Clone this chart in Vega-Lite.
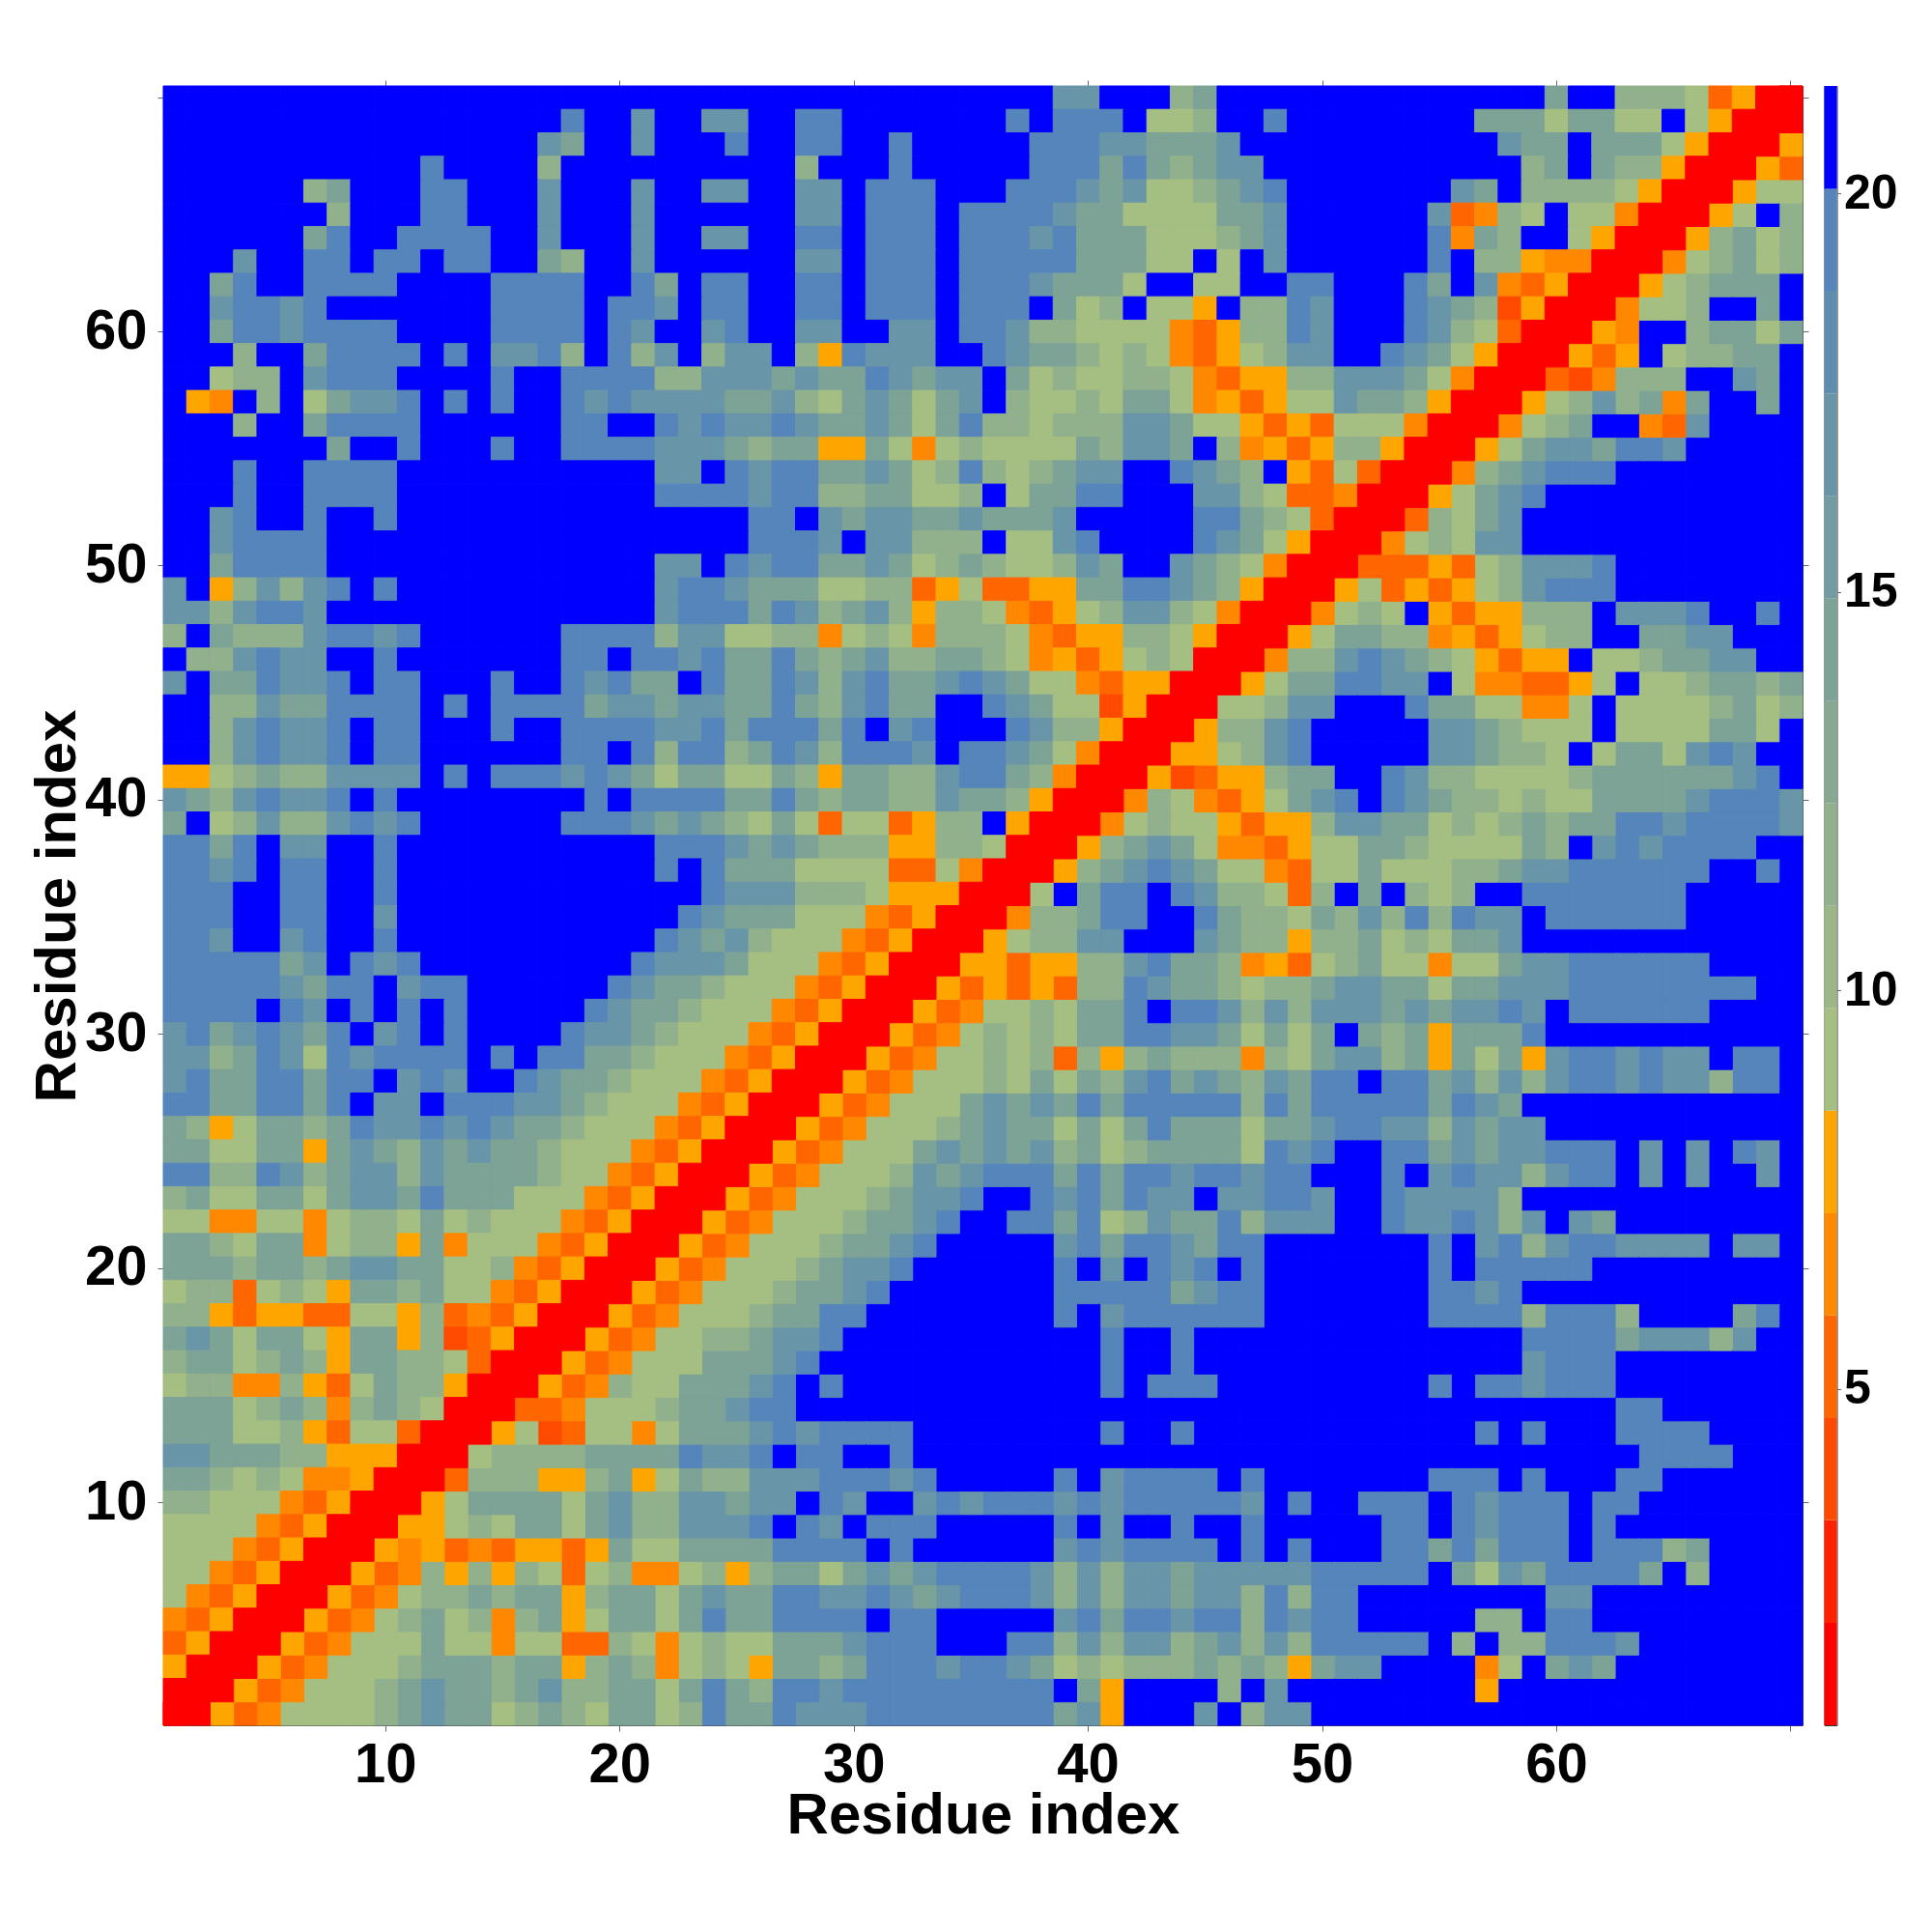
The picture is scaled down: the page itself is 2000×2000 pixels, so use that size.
{"$schema":"https://vega.github.io/schema/vega-lite/v6.json","background":"white","padding":{"left":29,"top":71,"right":0,"bottom":0},"spacing":14.5,"config":{"font":"Liberation Sans","view":{"stroke":null},"axis":{"domainColor":"#444","tickColor":"#666","tickSize":6,"tickWidth":1,"grid":false,"labelFontWeight":"bold","labelColor":"black","titleColor":"black","titleFontWeight":"bold","labelFont":"Liberation Sans","titleFont":"Liberation Sans","zindex":1}},"datasets":{"m":[
{"row":70,"col":[1,2,3,4,5,6,7,8,9,10,11,12,13,14,15,16,17,18,19,20,21,22,23,24,25,26,27,28,29,30,31,32,33,34,35,36,37,38,39,40,41,42,43,44,45,46,47,48,49,50,51,52,53,54,55,56,57,58,59,60,61,62,63,64,65,66,67,68,69,70],"dist":[21,21,21,21,21,21,21,21,21,21,21,21,21,21,21,21,21,21,21,21,21,21,21,21,21,21,21,21,21,21,21,21,21,21,21,21,21,21,17,17,21,21,21,12,14,21,21,21,21,21,21,21,21,21,21,21,21,21,21,14,21,21,12,12,12,9,5,8,1,1]},
{"row":69,"col":[1,2,3,4,5,6,7,8,9,10,11,12,13,14,15,16,17,18,19,20,21,22,23,24,25,26,27,28,29,30,31,32,33,34,35,36,37,38,39,40,41,42,43,44,45,46,47,48,49,50,51,52,53,54,55,56,57,58,59,60,61,62,63,64,65,66,67,68,69],"dist":[21,21,21,21,21,21,21,21,21,21,21,21,21,21,21,21,21,19,21,21,17,21,21,17,17,21,21,19,19,21,21,21,21,21,21,21,19,21,19,19,19,21,9,9,12,21,21,19,21,21,21,21,21,21,21,21,14,14,14,9,14,14,9,9,21,9,8,1,1]},
{"row":68,"col":[1,2,3,4,5,6,7,8,9,10,11,12,13,14,15,16,17,18,19,20,21,22,23,24,25,26,27,28,29,30,31,32,33,34,35,36,37,38,39,40,41,42,43,44,45,46,47,48,49,50,51,52,53,54,55,56,57,58,59,60,61,62,63,64,65,66,67,68],"dist":[21,21,21,21,21,21,21,21,21,21,21,21,21,21,21,21,17,14,21,21,17,21,21,21,19,21,21,19,19,21,21,19,21,21,21,21,21,19,19,19,17,17,14,14,14,17,21,21,21,21,21,21,21,21,21,21,21,17,14,14,21,14,14,14,9,8,1,1]},
{"row":67,"col":[1,2,3,4,5,6,7,8,9,10,11,12,13,14,15,16,17,18,19,20,21,22,23,24,25,26,27,28,29,30,31,32,33,34,35,36,37,38,39,40,41,42,43,44,45,46,47,48,49,50,51,52,53,54,55,56,57,58,59,60,61,62,63,64,65,66,67],"dist":[21,21,21,21,21,21,21,21,21,21,21,19,21,21,21,21,12,21,21,21,21,21,21,21,21,21,21,12,21,21,21,19,21,21,21,21,21,19,19,19,14,19,14,12,14,17,17,21,21,21,21,21,21,21,21,21,21,21,12,14,21,14,12,12,8,1,1]},
{"row":66,"col":[1,2,3,4,5,6,7,8,9,10,11,12,13,14,15,16,17,18,19,20,21,22,23,24,25,26,27,28,29,30,31,32,33,34,35,36,37,38,39,40,41,42,43,44,45,46,47,48,49,50,51,52,53,54,55,56,57,58,59,60,61,62,63,64,65,66],"dist":[21,21,21,21,21,21,12,14,21,21,21,19,19,21,21,21,17,21,21,21,17,21,21,17,17,21,21,17,17,21,19,19,19,21,21,21,19,19,19,17,14,17,9,9,12,14,17,19,21,21,21,21,21,21,21,17,14,21,12,12,12,12,9,8,1,1]},
{"row":65,"col":[1,2,3,4,5,6,7,8,9,10,11,12,13,14,15,16,17,18,19,20,21,22,23,24,25,26,27,28,29,30,31,32,33,34,35,36,37,38,39,40,41,42,43,44,45,46,47,48,49,50,51,52,53,54,55,56,57,58,59,60,61,62,63,64,65],"dist":[21,21,21,21,21,21,21,12,21,21,21,19,19,21,21,21,17,21,21,21,17,21,21,21,21,21,21,17,17,21,19,19,19,21,19,19,19,19,17,14,14,9,9,9,9,14,14,17,21,21,21,21,21,21,17,5,7,12,9,21,9,9,7,1,1]},
{"row":64,"col":[1,2,3,4,5,6,7,8,9,10,11,12,13,14,15,16,17,18,19,20,21,22,23,24,25,26,27,28,29,30,31,32,33,34,35,36,37,38,39,40,41,42,43,44,45,46,47,48,49,50,51,52,53,54,55,56,57,58,59,60,61,62,63,64],"dist":[21,21,21,21,21,21,14,19,21,21,19,19,19,19,21,21,17,21,21,21,17,21,21,17,17,21,21,19,19,21,19,19,19,21,19,19,19,17,19,14,14,14,9,9,9,12,14,17,21,21,21,21,21,21,19,7,14,12,21,21,9,8,1,1]},
{"row":63,"col":[1,2,3,4,5,6,7,8,9,10,11,12,13,14,15,16,17,18,19,20,21,22,23,24,25,26,27,28,29,30,31,32,33,34,35,36,37,38,39,40,41,42,43,44,45,46,47,48,49,50,51,52,53,54,55,56,57,58,59,60,61,62,63],"dist":[21,21,21,17,21,21,19,19,21,19,19,21,19,19,21,21,14,12,21,21,17,21,21,21,21,21,21,17,17,21,19,19,19,21,19,19,19,19,19,14,14,14,9,9,21,9,21,17,21,21,21,21,21,21,19,21,12,12,8,7,7,1,1]},
{"row":62,"col":[1,2,3,4,5,6,7,8,9,10,11,12,13,14,15,16,17,18,19,20,21,22,23,24,25,26,27,28,29,30,31,32,33,34,35,36,37,38,39,40,41,42,43,44,45,46,47,48,49,50,51,52,53,54,55,56,57,58,59,60,61,62],"dist":[21,21,14,19,21,21,19,19,19,19,21,21,21,21,19,19,19,19,21,21,19,14,21,19,19,21,21,19,19,21,19,19,19,21,19,19,19,17,14,14,14,9,21,21,9,9,21,21,19,19,21,21,21,19,14,21,17,7,5,8,1,1]},
{"row":61,"col":[1,2,3,4,5,6,7,8,9,10,11,12,13,14,15,16,17,18,19,20,21,22,23,24,25,26,27,28,29,30,31,32,33,34,35,36,37,38,39,40,41,42,43,44,45,46,47,48,49,50,51,52,53,54,55,56,57,58,59,60,61],"dist":[21,21,17,19,19,17,19,21,21,21,21,21,21,21,19,19,19,19,21,19,19,17,21,19,19,21,21,19,19,21,19,19,19,21,19,19,19,21,14,9,12,21,9,9,8,21,12,12,19,17,21,21,21,19,17,14,12,4,8,1,1]},
{"row":60,"col":[1,2,3,4,5,6,7,8,9,10,11,12,13,14,15,16,17,18,19,20,21,22,23,24,25,26,27,28,29,30,31,32,33,34,35,36,37,38,39,40,41,42,43,44,45,46,47,48,49,50,51,52,53,54,55,56,57,58,59,60],"dist":[21,21,14,19,19,17,19,19,19,19,21,21,21,21,19,19,19,19,21,19,17,21,21,17,19,21,21,17,17,21,21,17,17,21,19,19,17,12,12,9,9,9,9,7,5,8,12,12,19,17,21,21,21,19,17,12,9,5,1,1]},
{"row":59,"col":[1,2,3,4,5,6,7,8,9,10,11,12,13,14,15,16,17,18,19,20,21,22,23,24,25,26,27,28,29,30,31,32,33,34,35,36,37,38,39,40,41,42,43,44,45,46,47,48,49,50,51,52,53,54,55,56,57,58,59],"dist":[21,21,21,12,21,21,14,19,19,19,19,21,19,21,17,17,19,12,21,19,12,17,21,12,17,17,21,12,8,19,17,17,17,21,21,19,17,14,14,12,9,12,9,7,5,8,9,12,17,17,21,21,19,17,14,9,8,1,1]},
{"row":58,"col":[1,2,3,4,5,6,7,8,9,10,11,12,13,14,15,16,17,18,19,20,21,22,23,24,25,26,27,28,29,30,31,32,33,34,35,36,37,38,39,40,41,42,43,44,45,46,47,48,49,50,51,52,53,54,55,56,57,58],"dist":[21,21,9,12,12,21,17,19,19,19,21,21,21,21,19,21,21,19,19,19,19,12,12,17,17,17,14,17,14,14,19,17,14,17,17,21,14,9,12,9,9,12,12,9,7,5,8,8,12,12,17,17,17,14,9,7,1,1]},
{"row":57,"col":[1,2,3,4,5,6,7,8,9,10,11,12,13,14,15,16,17,18,19,20,21,22,23,24,25,26,27,28,29,30,31,32,33,34,35,36,37,38,39,40,41,42,43,44,45,46,47,48,49,50,51,52,53,54,55,56,57],"dist":[21,8,7,21,12,21,9,14,17,17,19,21,19,21,19,21,21,19,17,19,17,17,17,17,14,14,17,12,9,14,17,14,9,14,17,21,12,9,9,12,9,14,14,9,7,8,5,8,9,9,17,14,14,12,8,1,1]},
{"row":56,"col":[1,2,3,4,5,6,7,8,9,10,11,12,13,14,15,16,17,18,19,20,21,22,23,24,25,26,27,28,29,30,31,32,33,34,35,36,37,38,39,40,41,42,43,44,45,46,47,48,49,50,51,52,53,54,55,56],"dist":[21,21,21,12,21,21,14,19,19,19,19,21,21,21,21,21,21,19,19,21,21,19,17,19,17,17,19,17,14,14,17,14,9,14,19,12,12,9,12,12,12,17,17,14,9,9,8,5,8,5,9,9,9,7,1,1]},
{"row":55,"col":[1,2,3,4,5,6,7,8,9,10,11,12,13,14,15,16,17,18,19,20,21,22,23,24,25,26,27,28,29,30,31,32,33,34,35,36,37,38,39,40,41,42,43,44,45,46,47,48,49,50,51,52,53,54,55],"dist":[21,21,21,21,21,21,21,14,21,21,19,21,21,21,19,21,21,19,19,19,19,17,17,17,14,12,14,14,8,8,14,9,7,9,12,9,9,9,9,14,12,17,17,14,21,12,7,8,5,8,12,12,8,1,1]},
{"row":54,"col":[1,2,3,4,5,6,7,8,9,10,11,12,13,14,15,16,17,18,19,20,21,22,23,24,25,26,27,28,29,30,31,32,33,34,35,36,37,38,39,40,41,42,43,44,45,46,47,48,49,50,51,52,53,54],"dist":[21,21,21,19,21,21,19,19,19,19,21,21,21,21,21,21,21,21,21,21,21,17,17,21,19,17,19,19,14,14,17,14,9,12,19,12,9,12,14,17,17,21,21,19,17,14,12,21,8,5,9,5,1,1]},
{"row":53,"col":[1,2,3,4,5,6,7,8,9,10,11,12,13,14,15,16,17,18,19,20,21,22,23,24,25,26,27,28,29,30,31,32,33,34,35,36,37,38,39,40,41,42,43,44,45,46,47,48,49,50,51,52,53],"dist":[21,21,21,19,21,21,19,19,19,19,21,21,21,21,21,21,21,21,21,21,21,19,19,19,19,17,19,19,12,12,14,14,9,9,12,21,9,14,14,19,19,21,21,21,17,17,12,9,5,5,7,1,1]},
{"row":52,"col":[1,2,3,4,5,6,7,8,9,10,11,12,13,14,15,16,17,18,19,20,21,22,23,24,25,26,27,28,29,30,31,32,33,34,35,36,37,38,39,40,41,42,43,44,45,46,47,48,49,50,51,52],"dist":[21,21,17,19,21,21,19,21,21,19,21,21,21,21,21,21,21,21,21,21,21,21,21,21,21,19,19,21,17,14,17,17,14,14,17,14,14,14,17,21,21,21,21,21,19,19,14,12,9,5,1,1]},
{"row":51,"col":[1,2,3,4,5,6,7,8,9,10,11,12,13,14,15,16,17,18,19,20,21,22,23,24,25,26,27,28,29,30,31,32,33,34,35,36,37,38,39,40,41,42,43,44,45,46,47,48,49,50,51],"dist":[21,21,17,19,19,19,19,21,21,21,21,21,21,21,21,21,21,21,21,21,21,21,21,21,21,19,19,19,17,21,17,17,12,12,12,21,9,9,17,19,21,21,21,21,19,17,14,9,8,1,1]},
{"row":50,"col":[1,2,3,4,5,6,7,8,9,10,11,12,13,14,15,16,17,18,19,20,21,22,23,24,25,26,27,28,29,30,31,32,33,34,35,36,37,38,39,40,41,42,43,44,45,46,47,48,49,50],"dist":[21,21,14,19,19,19,19,21,21,21,21,21,21,21,21,21,21,21,21,21,21,17,17,21,19,17,19,19,14,14,17,14,9,12,14,12,9,9,12,17,14,21,21,17,14,12,9,7,1,1]},
{"row":49,"col":[1,2,3,4,5,6,7,8,9,10,11,12,13,14,15,16,17,18,19,20,21,22,23,24,25,26,27,28,29,30,31,32,33,34,35,36,37,38,39,40,41,42,43,44,45,46,47,48,49],"dist":[17,21,8,12,17,12,17,19,21,19,21,21,21,21,21,21,21,21,21,21,21,17,19,19,17,14,14,14,9,9,12,12,5,8,9,5,5,8,8,14,14,19,19,17,14,12,8,1,1]},
{"row":48,"col":[1,2,3,4,5,6,7,8,9,10,11,12,13,14,15,16,17,18,19,20,21,22,23,24,25,26,27,28,29,30,31,32,33,34,35,36,37,38,39,40,41,42,43,44,45,46,47,48],"dist":[17,17,12,17,19,19,17,21,21,21,21,21,21,21,21,21,21,21,21,21,21,17,19,19,19,14,19,17,12,14,17,12,8,12,12,9,7,5,8,9,12,17,17,12,9,7,1,1]},
{"row":47,"col":[1,2,3,4,5,6,7,8,9,10,11,12,13,14,15,16,17,18,19,20,21,22,23,24,25,26,27,28,29,30,31,32,33,34,35,36,37,38,39,40,41,42,43,44,45,46,47],"dist":[12,21,14,12,12,12,17,19,19,17,19,21,21,21,21,21,21,19,19,19,19,12,17,17,9,9,12,12,7,9,12,9,7,12,12,12,9,7,5,8,8,12,12,9,8,1,1]},
{"row":46,"col":[1,2,3,4,5,6,7,8,9,10,11,12,13,14,15,16,17,18,19,20,21,22,23,24,25,26,27,28,29,30,31,32,33,34,35,36,37,38,39,40,41,42,43,44,45,46],"dist":[21,12,12,17,19,17,17,21,21,19,21,21,21,21,21,21,21,19,19,21,19,19,17,19,14,14,19,14,12,14,17,12,12,14,14,12,9,7,8,5,8,9,12,9,1,1]},
{"row":45,"col":[1,2,3,4,5,6,7,8,9,10,11,12,13,14,15,16,17,18,19,20,21,22,23,24,25,26,27,28,29,30,31,32,33,34,35,36,37,38,39,40,41,42,43,44,45],"dist":[17,21,14,14,19,17,17,19,21,19,19,21,21,21,19,21,21,19,17,19,14,14,21,19,14,14,19,17,12,17,19,14,14,17,19,17,14,9,9,7,5,8,8,1,1]},
{"row":44,"col":[1,2,3,4,5,6,7,8,9,10,11,12,13,14,15,16,17,18,19,20,21,22,23,24,25,26,27,28,29,30,31,32,33,34,35,36,37,38,39,40,41,42,43,44],"dist":[21,21,12,12,17,14,14,19,19,19,19,21,19,21,19,19,19,19,14,17,17,14,17,17,14,14,19,14,12,17,19,14,14,21,21,19,17,14,9,9,4,8,1,1]},
{"row":43,"col":[1,2,3,4,5,6,7,8,9,10,11,12,13,14,15,16,17,18,19,20,21,22,23,24,25,26,27,28,29,30,31,32,33,34,35,36,37,38,39,40,41,42,43],"dist":[21,21,12,17,19,17,17,19,21,19,19,21,21,21,19,21,21,19,19,19,19,17,17,19,14,19,19,19,14,19,21,17,19,21,21,21,19,17,12,12,8,1,1]},
{"row":42,"col":[1,2,3,4,5,6,7,8,9,10,11,12,13,14,15,16,17,18,19,20,21,22,23,24,25,26,27,28,29,30,31,32,33,34,35,36,37,38,39,40,41,42],"dist":[21,21,12,17,19,17,17,19,21,19,19,21,21,21,21,21,21,19,19,21,19,12,19,19,12,14,19,17,12,19,19,19,17,21,19,19,17,14,9,7,1,1]},
{"row":41,"col":[1,2,3,4,5,6,7,8,9,10,11,12,13,14,15,16,17,18,19,20,21,22,23,24,25,26,27,28,29,30,31,32,33,34,35,36,37,38,39,40,41],"dist":[8,8,9,12,14,12,12,17,17,17,17,21,19,21,19,19,19,17,19,17,14,9,14,14,9,9,14,12,8,14,14,12,12,17,19,19,14,12,7,1,1]},
{"row":40,"col":[1,2,3,4,5,6,7,8,9,10,11,12,13,14,15,16,17,18,19,20,21,22,23,24,25,26,27,28,29,30,31,32,33,34,35,36,37,38,39,40],"dist":[17,14,12,17,19,17,17,19,21,19,21,21,21,21,21,21,21,21,19,21,19,19,19,19,14,14,19,14,12,14,14,12,12,17,14,14,12,8,1,1]},
{"row":39,"col":[1,2,3,4,5,6,7,8,9,10,11,12,13,14,15,16,17,18,19,20,21,22,23,24,25,26,27,28,29,30,31,32,33,34,35,36,37,38,39],"dist":[14,21,9,12,17,12,12,17,19,17,19,21,21,21,21,21,21,19,19,19,17,14,17,14,12,9,14,9,5,9,9,5,8,12,12,21,8,1,1]},
{"row":38,"col":[1,2,3,4,5,6,7,8,9,10,11,12,13,14,15,16,17,18,19,20,21,22,23,24,25,26,27,28,29,30,31,32,33,34,35,36,37,38],"dist":[19,19,14,19,21,17,17,21,21,19,21,21,21,21,21,21,21,21,21,21,21,19,19,19,17,14,17,14,12,12,12,8,8,12,12,9,1,1]},
{"row":37,"col":[1,2,3,4,5,6,7,8,9,10,11,12,13,14,15,16,17,18,19,20,21,22,23,24,25,26,27,28,29,30,31,32,33,34,35,36,37],"dist":[19,19,17,19,21,19,19,21,21,19,21,21,21,21,21,21,21,21,21,21,21,19,21,19,14,14,14,9,9,9,9,5,5,9,7,1,1]},
{"row":36,"col":[1,2,3,4,5,6,7,8,9,10,11,12,13,14,15,16,17,18,19,20,21,22,23,24,25,26,27,28,29,30,31,32,33,34,35,36],"dist":[19,19,19,21,21,19,19,21,21,19,21,21,21,21,21,21,21,21,21,21,21,21,21,19,17,17,17,12,12,12,9,8,8,8,1,1]},
{"row":35,"col":[1,2,3,4,5,6,7,8,9,10,11,12,13,14,15,16,17,18,19,20,21,22,23,24,25,26,27,28,29,30,31,32,33,34,35],"dist":[19,19,19,21,21,19,19,21,21,17,21,21,21,21,21,21,21,21,21,21,21,21,19,17,14,14,14,9,9,9,7,5,8,1,1]},
{"row":34,"col":[1,2,3,4,5,6,7,8,9,10,11,12,13,14,15,16,17,18,19,20,21,22,23,24,25,26,27,28,29,30,31,32,33,34],"dist":[19,19,17,21,21,17,19,21,21,19,21,21,21,21,21,21,21,21,21,21,21,19,17,14,17,12,9,9,9,7,5,8,1,1]},
{"row":33,"col":[1,2,3,4,5,6,7,8,9,10,11,12,13,14,15,16,17,18,19,20,21,22,23,24,25,26,27,28,29,30,31,32,33],"dist":[19,19,19,19,19,14,17,21,19,17,19,21,21,21,21,21,21,21,21,21,19,17,17,17,14,9,9,9,7,5,8,1,1]},
{"row":32,"col":[1,2,3,4,5,6,7,8,9,10,11,12,13,14,15,16,17,18,19,20,21,22,23,24,25,26,27,28,29,30,31,32],"dist":[19,19,19,19,19,17,14,19,19,21,17,19,19,21,21,21,21,21,21,19,17,14,14,12,9,9,9,7,5,8,1,1]},
{"row":31,"col":[1,2,3,4,5,6,7,8,9,10,11,12,13,14,15,16,17,18,19,20,21,22,23,24,25,26,27,28,29,30,31],"dist":[19,19,19,19,21,19,17,21,19,21,19,21,19,21,21,21,21,21,19,17,14,14,12,9,9,9,7,5,8,1,1]},
{"row":30,"col":[1,2,3,4,5,6,7,8,9,10,11,12,13,14,15,16,17,18,19,20,21,22,23,24,25,26,27,28,29,30],"dist":[17,19,14,17,19,17,14,19,21,17,19,21,19,21,21,21,21,19,17,17,14,12,9,9,9,7,5,8,1,1]},
{"row":29,"col":[1,2,3,4,5,6,7,8,9,10,11,12,13,14,15,16,17,18,19,20,21,22,23,24,25,26,27,28,29],"dist":[17,17,12,14,19,17,9,19,17,19,19,19,19,21,19,21,19,19,14,14,12,9,9,9,7,5,8,1,1]},
{"row":28,"col":[1,2,3,4,5,6,7,8,9,10,11,12,13,14,15,16,17,18,19,20,21,22,23,24,25,26,27,28],"dist":[17,19,14,14,19,19,14,19,19,21,17,19,17,21,21,19,17,14,14,12,9,9,9,7,5,8,1,1]},
{"row":27,"col":[1,2,3,4,5,6,7,8,9,10,11,12,13,14,15,16,17,18,19,20,21,22,23,24,25,26,27],"dist":[19,19,14,14,19,19,14,19,21,17,17,21,19,19,19,17,17,14,12,9,9,9,7,5,8,1,1]},
{"row":26,"col":[1,2,3,4,5,6,7,8,9,10,11,12,13,14,15,16,17,18,19,20,21,22,23,24,25,26],"dist":[14,12,8,9,14,14,12,14,19,17,17,19,17,19,17,14,14,12,9,9,9,7,5,8,1,1]},
{"row":25,"col":[1,2,3,4,5,6,7,8,9,10,11,12,13,14,15,16,17,18,19,20,21,22,23,24,25],"dist":[14,14,9,9,14,14,8,14,17,14,12,17,14,17,14,14,12,9,9,9,7,5,8,1,1]},
{"row":24,"col":[1,2,3,4,5,6,7,8,9,10,11,12,13,14,15,16,17,18,19,20,21,22,23,24],"dist":[19,19,12,12,19,17,12,14,17,17,12,17,14,14,14,14,12,9,9,7,5,8,1,1]},
{"row":23,"col":[1,2,3,4,5,6,7,8,9,10,11,12,13,14,15,16,17,18,19,20,21,22,23],"dist":[12,14,9,9,14,14,9,14,17,17,14,19,14,14,14,9,9,9,7,5,8,1,1]},
{"row":22,"col":[1,2,3,4,5,6,7,8,9,10,11,12,13,14,15,16,17,18,19,20,21,22],"dist":[9,9,7,7,9,9,7,9,12,12,9,14,9,12,9,9,9,7,5,8,1,1]},
{"row":21,"col":[1,2,3,4,5,6,7,8,9,10,11,12,13,14,15,16,17,18,19,20,21],"dist":[14,14,12,9,14,14,7,9,12,12,8,14,7,9,9,9,7,5,8,1,1]},
{"row":20,"col":[1,2,3,4,5,6,7,8,9,10,11,12,13,14,15,16,17,18,19,20],"dist":[14,14,14,12,14,14,12,14,17,17,14,14,9,9,12,7,5,8,1,1]},
{"row":19,"col":[1,2,3,4,5,6,7,8,9,10,11,12,13,14,15,16,17,18,19],"dist":[9,12,12,5,9,12,9,8,14,14,12,14,9,9,7,5,8,1,1]},
{"row":18,"col":[1,2,3,4,5,6,7,8,9,10,11,12,13,14,15,16,17,18],"dist":[12,12,8,5,8,8,5,5,9,9,8,12,5,7,5,8,1,1]},
{"row":17,"col":[1,2,3,4,5,6,7,8,9,10,11,12,13,14,15,16,17],"dist":[14,17,14,9,14,14,9,8,14,14,8,12,4,5,8,1,1]},
{"row":16,"col":[1,2,3,4,5,6,7,8,9,10,11,12,13,14,15,16],"dist":[12,14,14,9,12,14,12,8,14,14,12,12,9,5,1,1]},
{"row":15,"col":[1,2,3,4,5,6,7,8,9,10,11,12,13,14,15],"dist":[9,12,12,7,7,12,8,5,9,14,12,12,8,1,1]},
{"row":14,"col":[1,2,3,4,5,6,7,8,9,10,11,12,13,14],"dist":[14,14,14,9,12,14,12,7,12,14,12,9,1,1]},
{"row":13,"col":[1,2,3,4,5,6,7,8,9,10,11,12,13],"dist":[14,14,14,9,9,12,8,5,9,9,5,1,1]},
{"row":12,"col":[1,2,3,4,5,6,7,8,9,10,11,12],"dist":[17,17,14,14,14,12,12,8,8,8,1,1]},
{"row":11,"col":[1,2,3,4,5,6,7,8,9,10,11],"dist":[14,14,12,9,12,9,7,7,8,1,1]},
{"row":10,"col":[1,2,3,4,5,6,7,8,9,10],"dist":[12,12,9,9,9,7,5,8,1,1]},
{"row":9,"col":[1,2,3,4,5,6,7,8,9],"dist":[9,9,9,9,7,5,8,1,1]},
{"row":8,"col":[1,2,3,4,5,6,7,8],"dist":[9,9,9,7,5,8,1,1]},
{"row":7,"col":[1,2,3,4,5,6,7],"dist":[9,9,7,5,8,1,1]},
{"row":6,"col":[1,2,3,4,5,6],"dist":[9,7,5,8,1,1]},
{"row":5,"col":[1,2,3,4,5],"dist":[7,5,8,1,1]},
{"row":4,"col":[1,2,3,4],"dist":[5,8,1,1]},
{"row":3,"col":[1,2,3],"dist":[8,1,1]},
{"row":2,"col":[1,2],"dist":[1,1]},
{"row":1,"col":[1],"dist":[1]}
],"cb":[{"lo":0.775,"hi":2.06,"v":1},{"lo":2.06,"hi":3.35,"v":3},{"lo":3.35,"hi":4.63,"v":4},{"lo":4.63,"hi":5.92,"v":5},{"lo":5.92,"hi":7.2,"v":7},{"lo":7.2,"hi":8.49,"v":8},{"lo":8.49,"hi":9.78,"v":9},{"lo":9.78,"hi":11.06,"v":10},{"lo":11.06,"hi":12.35,"v":12},{"lo":12.35,"hi":13.63,"v":13},{"lo":13.63,"hi":14.92,"v":14},{"lo":14.92,"hi":16.2,"v":15},{"lo":16.2,"hi":17.49,"v":17},{"lo":17.49,"hi":18.78,"v":18},{"lo":18.78,"hi":20.06,"v":19},{"lo":20.06,"hi":21.35,"v":21}]},"hconcat":[{"width":1697,"height":1697,"data":{"name":"m"},"transform":[{"flatten":["col","dist"]}],"layer":[{"mark":{"type":"rect","strokeWidth":1},"encoding":{"x":{"field":"col","type":"ordinal","scale":{"domain":[1,2,3,4,5,6,7,8,9,10,11,12,13,14,15,16,17,18,19,20,21,22,23,24,25,26,27,28,29,30,31,32,33,34,35,36,37,38,39,40,41,42,43,44,45,46,47,48,49,50,51,52,53,54,55,56,57,58,59,60,61,62,63,64,65,66,67,68,69,70],"round":false,"paddingInner":0,"paddingOuter":0},"axis":{"title":"Residue index","orient":"bottom","values":[10,20,30,40,50,60,70],"labelExpr":"datum.value==70?'':datum.label","labelAngle":0,"labelFontSize":58,"labelPadding":6,"titleFontSize":60,"titlePadding":-6}},"y":{"field":"row","type":"ordinal","scale":{"domain":[70,69,68,67,66,65,64,63,62,61,60,59,58,57,56,55,54,53,52,51,50,49,48,47,46,45,44,43,42,41,40,39,38,37,36,35,34,33,32,31,30,29,28,27,26,25,24,23,22,21,20,19,18,17,16,15,14,13,12,11,10,9,8,7,6,5,4,3,2,1],"round":false,"paddingInner":0,"paddingOuter":0},"axis":{"title":"Residue index","orient":"left","values":[10,20,30,40,50,60,70],"labelExpr":"datum.value==70?'':datum.label","labelFontSize":58,"labelPadding":11,"titleFontSize":60,"titlePadding":-3.5}},"fill":{"field":"dist","type":"quantitative","scale":{"type":"threshold","domain":[2.06,3.35,4.63,5.92,7.2,8.49,9.78,11.06,12.35,13.63,14.92,16.2,17.49,18.78,20.06],"range":["#ff0000","#ff2200","#ff4a00","#ff6600","#ff8800","#ffa500","#a5be82","#9bb787","#91b08c","#87a991","#7da296","#739ba0","#6995a8","#5f8db0","#5585bb","#0000ff"]},"legend":null},"stroke":{"field":"dist","type":"quantitative","scale":{"type":"threshold","domain":[2.06,3.35,4.63,5.92,7.2,8.49,9.78,11.06,12.35,13.63,14.92,16.2,17.49,18.78,20.06],"range":["#ff0000","#ff2200","#ff4a00","#ff6600","#ff8800","#ffa500","#a5be82","#9bb787","#91b08c","#87a991","#7da296","#739ba0","#6995a8","#5f8db0","#5585bb","#0000ff"]},"legend":null}}},{"mark":{"type":"rect","strokeWidth":1},"encoding":{"x":{"field":"row","type":"ordinal","axis":{"title":null,"orient":"top","values":[10,20,30,40,50,60,70],"labels":false}},"y":{"field":"col","type":"ordinal","axis":{"title":null,"orient":"right","values":[10,20,30,40,50,60,70],"labels":false}},"fill":{"field":"dist","type":"quantitative","scale":{"type":"threshold","domain":[2.06,3.35,4.63,5.92,7.2,8.49,9.78,11.06,12.35,13.63,14.92,16.2,17.49,18.78,20.06],"range":["#ff0000","#ff2200","#ff4a00","#ff6600","#ff8800","#ffa500","#a5be82","#9bb787","#91b08c","#87a991","#7da296","#739ba0","#6995a8","#5f8db0","#5585bb","#0000ff"]},"legend":null},"stroke":{"field":"dist","type":"quantitative","scale":{"type":"threshold","domain":[2.06,3.35,4.63,5.92,7.2,8.49,9.78,11.06,12.35,13.63,14.92,16.2,17.49,18.78,20.06],"range":["#ff0000","#ff2200","#ff4a00","#ff6600","#ff8800","#ffa500","#a5be82","#9bb787","#91b08c","#87a991","#7da296","#739ba0","#6995a8","#5f8db0","#5585bb","#0000ff"]},"legend":null}}}],"resolve":{"axis":{"x":"independent","y":"independent"}}},{"width":13,"height":1697,"data":{"name":"cb"},"view":{"stroke":"#333"},"mark":{"type":"rect"},"encoding":{"y":{"field":"lo","type":"quantitative","scale":{"domain":[0.775,21.35],"nice":false,"zero":false},"axis":{"title":null,"orient":"right","values":[5,10,15,20],"labelFontSize":50,"labelPadding":3,"tickSize":4,"domain":false}},"y2":{"field":"hi"},"fill":{"field":"v","type":"quantitative","scale":{"type":"threshold","domain":[2.06,3.35,4.63,5.92,7.2,8.49,9.78,11.06,12.35,13.63,14.92,16.2,17.49,18.78,20.06],"range":["#ff0000","#ff2200","#ff4a00","#ff6600","#ff8800","#ffa500","#a5be82","#9bb787","#91b08c","#87a991","#7da296","#739ba0","#6995a8","#5f8db0","#5585bb","#0000ff"]},"legend":null}}}]}
